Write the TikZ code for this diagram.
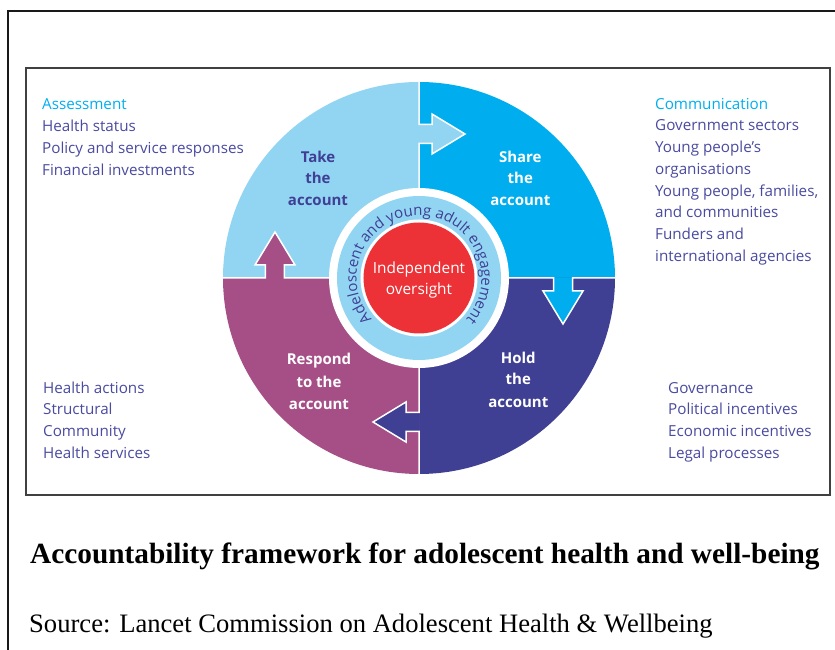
\documentclass[tikz,border=0pt]{standalone}
\usepackage{fontspec}
\setmainfont{Open Sans}
\newfontfamily\capfont{Liberation Serif}
\usetikzlibrary{decorations.text}
\definecolor{takec}{HTML}{92D5F3}
\definecolor{sharec}{HTML}{00AEEF}
\definecolor{holdc}{HTML}{3F3F94}
\definecolor{respc}{HTML}{A64F87}
\definecolor{redc}{HTML}{EC3237}
\definecolor{sidec}{HTML}{4A4AA0}
\definecolor{headc}{HTML}{00AEEF}
\definecolor{labc}{HTML}{3F3F94}
\definecolor{boxc}{HTML}{404040}
\def\arD{144}\def\arW{9.5}\def\arS{13}\def\arH{20}\def\arL{33}
\begin{document}
\begin{tikzpicture}[x=1pt,y=1pt,
  side/.style={font=\fontsize{15.2}{18}\selectfont, text=sidec, anchor=base west, inner sep=0pt},
  headtxt/.style={side, text=headc},
  lab/.style={font=\bfseries\fontsize{15}{18}\selectfont, anchor=base, inner sep=0pt},
  wline/.style={draw=white, line width=1.5pt, line join=miter}]
\useasboundingbox (-419,-372) rectangle (416,278);
% frames
\draw[line width=1.6pt, black!90] (420,267) -- (-411,267) -- (-411,-380);
\draw[line width=2pt, boxc] (-393,210) rectangle (411,-217);
% quadrants
\fill[takec] (0,0) -- (-196,0) arc (180:90:196) -- cycle;
\fill[sharec] (0,0) -- (0,196) arc (90:0:196) -- cycle;
\fill[holdc] (0,0) -- (196,0) arc (0:-90:196) -- cycle;
\fill[respc] (0,0) -- (0,-196) arc (-90:-180:196) -- cycle;
% arrows
\fill[takec] (0,\arD+\arW) -- (\arS,\arD+\arW) -- (\arS,\arD+\arH) -- (\arS+\arL,\arD) -- (\arS,\arD-\arH) -- (\arS,\arD-\arW) -- (0,\arD-\arW) -- cycle;
\fill[sharec] (\arD+\arW,0) -- (\arD+\arW,-\arS) -- (\arD+\arH,-\arS) -- (\arD,-\arS-\arL) -- (\arD-\arH,-\arS) -- (\arD-\arW,-\arS) -- (\arD-\arW,0) -- cycle;
\fill[holdc] (0,-\arD-\arW) -- (-\arS,-\arD-\arW) -- (-\arS,-\arD-\arH) -- (-\arS-\arL,-\arD) -- (-\arS,-\arD+\arH) -- (-\arS,-\arD+\arW) -- (0,-\arD+\arW) -- cycle;
\fill[respc] (-\arD-\arW,0) -- (-\arD-\arW,\arS) -- (-\arD-\arH,\arS) -- (-\arD,\arS+\arL) -- (-\arD+\arH,\arS) -- (-\arD+\arW,\arS) -- (-\arD+\arW,0) -- cycle;
% white boundaries with arrow outlines
\draw[wline] (0,196) -- (0,\arD+\arW) -- (\arS,\arD+\arW) -- (\arS,\arD+\arH) -- (\arS+\arL,\arD) -- (\arS,\arD-\arH) -- (\arS,\arD-\arW) -- (0,\arD-\arW) -- (0,0);
\draw[wline] (196,0) -- (\arD+\arW,0) -- (\arD+\arW,-\arS) -- (\arD+\arH,-\arS) -- (\arD,-\arS-\arL) -- (\arD-\arH,-\arS) -- (\arD-\arW,-\arS) -- (\arD-\arW,0) -- (0,0);
\draw[wline] (0,-196) -- (0,-\arD-\arW) -- (-\arS,-\arD-\arW) -- (-\arS,-\arD-\arH) -- (-\arS-\arL,-\arD) -- (-\arS,-\arD+\arH) -- (-\arS,-\arD+\arW) -- (0,-\arD+\arW) -- (0,0);
\draw[wline] (-196,0) -- (-\arD-\arW,0) -- (-\arD-\arW,\arS) -- (-\arD-\arH,\arS) -- (-\arD,\arS+\arL) -- (-\arD+\arH,\arS) -- (-\arD+\arW,\arS) -- (-\arD+\arW,0) -- (0,0);
% centre rings
\fill[white] (0,0) circle (90);
\fill[takec] (0,0) circle (82);
\fill[white] (0,0) circle (58.5);
\fill[redc] (0,0) circle (55.5);
\path[decorate, decoration={text along path, text align=center, text color=labc,
  text={|\fontsize{15}{17}\selectfont|Adeloscent and young adult engagement}}]
  (228:62.5) arc (228:-48:62.5);
\node[lab, text=white, font=\fontsize{15.4}{18}\selectfont] (io1) at (0,4.7) {Independent};
\node[lab, text=white, font=\fontsize{15.4}{18}\selectfont] (io2) at (0,-17) {oversight};
% quadrant labels
\node[lab, text=labc] (ta1) at (-101,115.3) {Take};
\node[lab, text=labc] (ta2) at (-101,94) {the};
\node[lab, text=labc] (ta3) at (-101,72.6) {account};
\node[lab, text=white] (sa1) at (101.3,115.3) {Share};
\node[lab, text=white] (sa2) at (101.3,94) {the};
\node[lab, text=white] (sa3) at (101.3,72.6) {account};
\node[lab, text=white] (ha1) at (99.3,-85.3) {Hold};
\node[lab, text=white] (ha2) at (99.3,-107) {the};
\node[lab, text=white] (ha3) at (99.3,-129.3) {account};
\node[lab, text=white] (ra1) at (-100,-87) {Respond};
\node[lab, text=white] (ra2) at (-100,-109.3) {to the};
\node[lab, text=white] (ra3) at (-100,-131.3) {account};
% side texts
\node[headtxt] (lt0) at (-377,168) {Assessment};
\foreach \t [count=\i] in {Health status, Policy and service responses, Financial investments}
  \node[side] (lt\i) at (-377,168-21.7*\i) {\t};
\node[headtxt] (rt0) at (236,168.7) {Communication};
\foreach \t [count=\i] in {Government sectors, Young people’s, organisations, {Young people, families,}, and communities, Funders and, international agencies}
  \node[side] (rt\i) at (236,168.7-21.7*\i) {\t};
\foreach \t [count=\i] in {Health actions, Structural, Community, Health services}
  \node[side] (lb\i) at (-376,-115.3-21.7*\i+21.7) {\t};
\foreach \t [count=\i] in {Governance, Political incentives, Economic incentives, Legal processes}
  \node[side] (rb\i) at (249,-115.3-21.7*\i+21.7) {\t};
% caption
\node[anchor=base west, inner sep=0pt, font=\capfont\bfseries\fontsize{29.3}{32}\selectfont] (cap) at (-389,-285) {Accountability framework for adolescent health and well-being};
\node[anchor=base west, inner sep=0pt, font=\capfont\fontsize{26.6}{30}\selectfont] (src) at (-390,-354) {Source: Lancet Commission on Adolescent Health \& Wellbeing};
\end{tikzpicture}
\end{document}
